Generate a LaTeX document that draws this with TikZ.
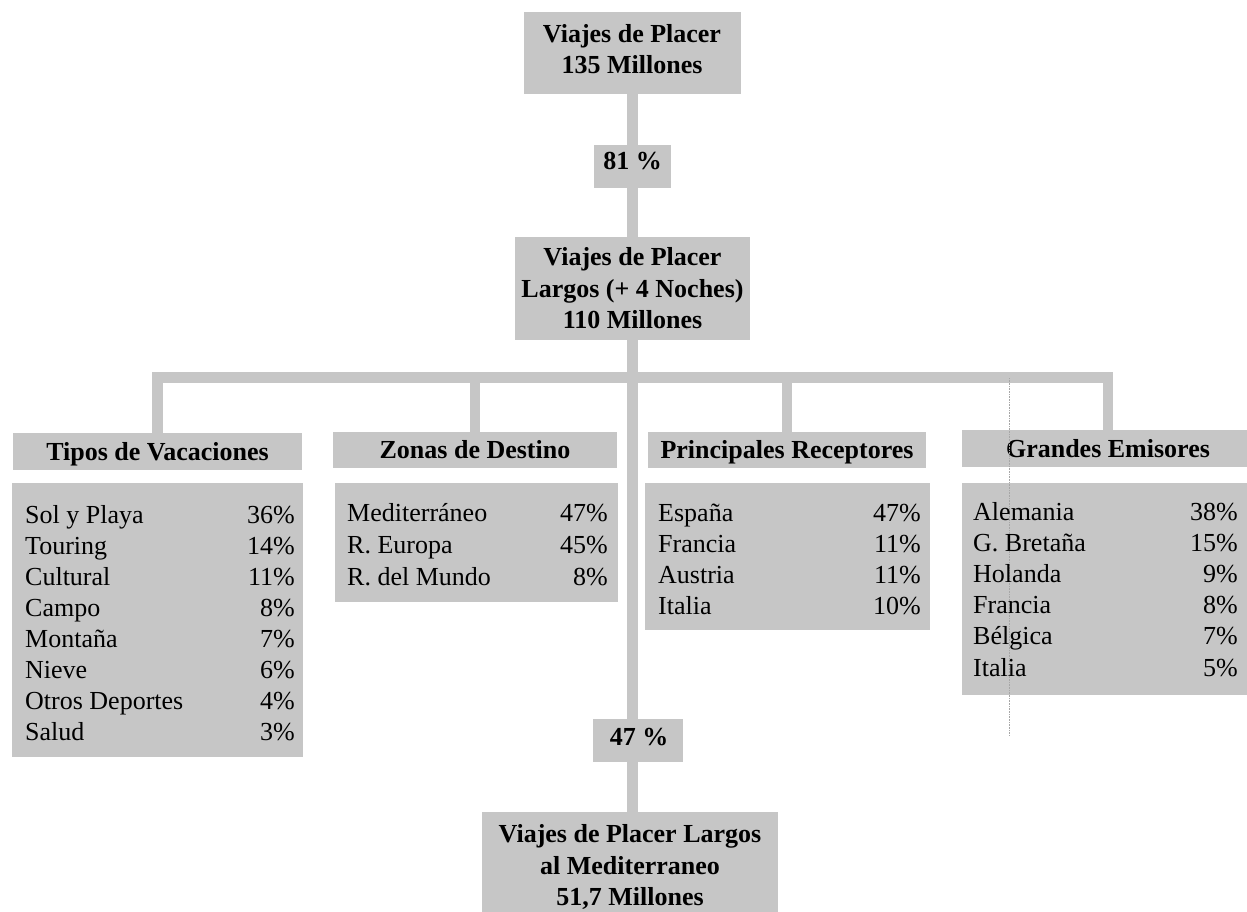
\documentclass[tikz,border=0pt]{standalone}
\usepackage{fontspec}
\setmainfont{Liberation Serif}
\usetikzlibrary{calc}
\definecolor{boxgray}{RGB}{198,198,198}
\begin{document}
\begin{tikzpicture}[x=1pt,y=-1pt,
  box/.style={fill=boxgray, draw=none, inner sep=0pt, outer sep=0pt},
  conn/.style={draw=boxgray, line width=10.5pt},
  bigtxt/.style={font=\fontsize{26}{31.5}\selectfont\bfseries, align=center, inner sep=0pt},
  item/.style={font=\fontsize{26}{31}\selectfont, inner sep=0pt},
  hdr/.style={box, font=\fontsize{26}{31}\selectfont\bfseries, text height=22pt, text depth=5pt}
]
\useasboundingbox (0,0) rectangle (1247,912);

% main boxes
\node[box, minimum width=217pt, minimum height=82pt] (T) at (632.5,53) {};
\node[bigtxt] (Tt) at (632,49) {Viajes de Placer\\135 Millones};

\node[box, minimum width=77pt, minimum height=43pt] (P81) at (632.5,166.5) {};
\node[bigtxt, anchor=base] (P81t) at (632.5,170) {81 \%};

\node[box, bigtxt, minimum width=235pt, minimum height=103pt] (M) at (632.5,288.5)
  {Viajes de Placer\\Largos (+ 4 Noches)\\110 Millones};

\node[box, minimum width=90pt, minimum height=43pt] (P47) at (638,740.5) {};
\node[bigtxt, anchor=base] (P47t) at (639,745) {47 \%};

\node[box, bigtxt, minimum width=296pt, minimum height=110pt] (B) at (630,867)
  {Viajes de Placer Largos\\al Mediterraneo\\51,7 Millones};

% headers
\node[hdr, minimum width=289pt, minimum height=37pt] (TipH) at (157.5,451.5) {Tipos de Vacaciones};
\node[hdr, minimum width=284pt, minimum height=36pt] (ZonH) at (475,450) {Zonas de Destino};
\node[hdr, minimum width=278pt, minimum height=36pt] (PriH) at (787,450) {Principales Receptores};
\node[hdr, minimum width=292pt, minimum height=37pt] (GraH) at (1108,448.5) {Grandes Emisores};

% item boxes
\node[box, minimum width=291pt, minimum height=274pt] (TipL) at (157.5,620) {};
\node[box, minimum width=283pt, minimum height=119pt] (ZonL) at (476.5,542.5) {};
\node[box, minimum width=285pt, minimum height=147pt] (PriL) at (787.5,556.5) {};
\node[box, minimum width=292pt, minimum height=212pt] (GraL) at (1108,589) {};

% connectors
\coordinate (J) at (632.5,377.5);
\draw[conn] (T.south) -- (P81.north);
\draw[conn] (P81.south) -- (M.north);
\draw[conn] (M.south) -- (M.south |- P47.north);
\draw[conn] (P47.south -| M.south) -- (B.north -| M.south);
\draw[conn, line cap=rect] (TipH.north |- J) -- (GraH.north |- J);
\draw[conn] (TipH.north |- J) -- (TipH.north);
\draw[conn] (ZonH.north |- J) -- (ZonH.north);
\draw[conn] (PriH.north |- J) -- (PriH.north);
\draw[conn] (GraH.north |- J) -- (GraH.north);

% faint scan line
\draw[gray!70, line width=0.6pt, densely dotted] (1009,378) -- (1009,735);

% list items
\foreach \t/\p [count=\i from 0] in {Sol y Playa/36, Touring/14, Cultural/11, Campo/8, Montaña/7, Nieve/6, Otros Deportes/4, Salud/3}{
  \node[item, anchor=base west] (tipa\i) at (25,{523+31*\i}) {\t};
  \node[item, anchor=base east] (tipb\i) at (295,{523+31*\i}) {\p\%};
}
\foreach \t/\p [count=\i from 0] in {Mediterráneo/47, R. Europa/45, R. del Mundo/8}{
  \node[item, anchor=base west] (zona\i) at (347,{521+32*\i}) {\t};
  \node[item, anchor=base east] (zonb\i) at (608,{521+32*\i}) {\p\%};
}
\foreach \t/\p [count=\i from 0] in {España/47, Francia/11, Austria/11, Italia/10}{
  \node[item, anchor=base west] (pria\i) at (658,{521+31.3*\i}) {\t};
  \node[item, anchor=base east] (prib\i) at (921,{521+31.3*\i}) {\p\%};
}
\foreach \t/\p [count=\i from 0] in {Alemania/38, G. Bretaña/15, Holanda/9, Francia/8, Bélgica/7, Italia/5}{
  \node[item, anchor=base west] (graa\i) at (973,{520+31.2*\i}) {\t};
  \node[item, anchor=base east] (grab\i) at (1238,{520+31.2*\i}) {\p\%};
}
\end{tikzpicture}
\end{document}
